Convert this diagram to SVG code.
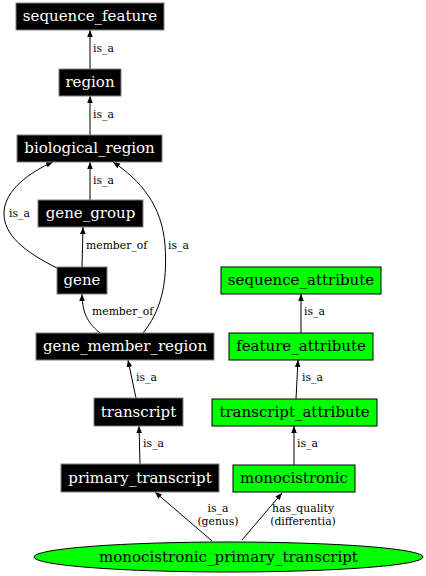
<svg xmlns="http://www.w3.org/2000/svg" width="426" height="576" viewBox="0 0 426 576">
<defs>
<marker id="arr" viewBox="0 0 10 10" refX="10" refY="5" markerWidth="7" markerHeight="7" orient="auto" markerUnits="userSpaceOnUse">
<path d="M0,1 L10,5 L0,9 Z" fill="#000"/>
</marker>
<style>
.bk rect{fill:#000;stroke:#808080;stroke-width:1}
.gr rect,.gr ellipse{fill:#00ff00;stroke:#000;stroke-width:1}
.bk text{fill:#fff;font-family:'DejaVu Serif',serif;font-size:15px;text-anchor:middle}
.gr text{fill:#000;font-family:'DejaVu Serif',serif;font-size:15px;text-anchor:middle}
.e path{fill:none;stroke:#000;stroke-width:1;marker-end:url(#arr)}
.e text{font-family:'DejaVu Serif',serif;font-size:10.8px;fill:#000}
</style>
</defs>
<rect width="426" height="576" fill="#fff"/>
<g class="e" id="connectors">
<path d="M90,69 L90,30"/>
<text x="93" y="52">is_a</text>
<path d="M90,135 L90,96"/>
<text x="93" y="118">is_a</text>
<path d="M90,200 L90,162"/>
<text x="93" y="184">is_a</text>
<path d="M57,268 C25,252 3,235 4,212 C5,190 30,172 53,162"/>
<text x="9" y="217">is_a</text>
<path d="M143,333 C160,312 168,285 165,245 C162,205 140,180 113,162"/>
<text x="168" y="249">is_a</text>
<path d="M82,267 L83,227"/>
<text x="86" y="249">member_of</text>
<path d="M100,333 C90,325 82,315 82,294"/>
<text x="92" y="315">member_of</text>
<path d="M136,398 L128,360"/>
<text x="136" y="381">is_a</text>
<path d="M140,464 L139,426"/>
<text x="143" y="447">is_a</text>
<path d="M212,541 L155,492"/>
<text x="218" y="512" text-anchor="middle">is_a</text>
<text x="218" y="525" text-anchor="middle">(genus)</text>
<path d="M242,540 L282,493"/>
<text x="303" y="512" text-anchor="middle">has_quality</text>
<text x="303" y="525" text-anchor="middle">(differentia)</text>
<path d="M294,465 L294,426"/>
<text x="297" y="447">is_a</text>
<path d="M296,399 L298,360"/>
<text x="302" y="381">is_a</text>
<path d="M301,333 L301,294"/>
<text x="304" y="315">is_a</text>
</g>
<g class="bk" id="sequence_feature"><rect x="16" y="3" width="148" height="27"/><text x="90" y="21">sequence_feature</text></g>
<g class="bk" id="region"><rect x="59" y="69" width="62" height="27"/><text x="90" y="87">region</text></g>
<g class="bk" id="biological_region"><rect x="17" y="135" width="145" height="27"/><text x="89.5" y="153">biological_region</text></g>
<g class="bk" id="gene_group"><rect x="38" y="200" width="105" height="27"/><text x="90.5" y="218">gene_group</text></g>
<g class="bk" id="gene"><rect x="57" y="267" width="50" height="27"/><text x="82" y="285">gene</text></g>
<g class="bk" id="gene_member_region"><rect x="36" y="333" width="178" height="27"/><text x="125" y="351">gene_member_region</text></g>
<g class="bk" id="transcript"><rect x="94" y="398" width="89" height="28"/><text x="138.5" y="417">transcript</text></g>
<g class="bk" id="primary_transcript"><rect x="61" y="464" width="158" height="28"/><text x="140" y="483">primary_transcript</text></g>
<g class="gr" id="sequence_attribute"><rect x="221" y="267" width="160" height="27"/><text x="301" y="285">sequence_attribute</text></g>
<g class="gr" id="feature_attribute"><rect x="229" y="333" width="144" height="27"/><text x="301" y="351">feature_attribute</text></g>
<g class="gr" id="transcript_attribute"><rect x="212" y="399" width="165" height="27"/><text x="294.5" y="417">transcript_attribute</text></g>
<g class="gr" id="monocistronic"><rect x="233" y="465" width="122" height="27"/><text x="294" y="483">monocistronic</text></g>
<g class="gr" id="monocistronic_primary_transcript"><ellipse cx="228.5" cy="557" rx="194.5" ry="15"/><text x="228.5" y="562">monocistronic_primary_transcript</text></g>
</svg>
